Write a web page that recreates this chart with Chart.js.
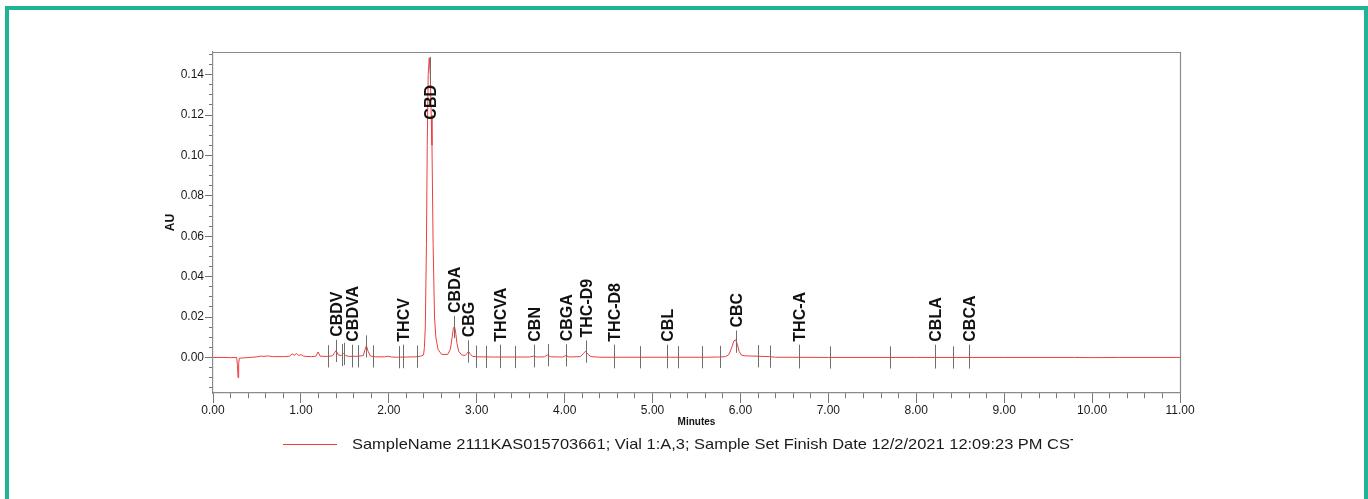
<!DOCTYPE html>
<html>
<head>
<meta charset="utf-8">
<script src="https://cdn.jsdelivr.net/npm/chart.js@4.4.1/dist/chart.umd.min.js"></script>
<style>
  html, body { margin: 0; padding: 0; background: #ffffff; overflow: hidden; }
  #wrap { position: relative; width: 1368px; height: 499px; }
  #frame { position: absolute; left: 5px; top: 6px; width: 1363px; height: 520px;
           border: 4px solid #1eb495; box-sizing: border-box; pointer-events: none; }
  canvas { position: absolute; left: 0; top: 0; }
</style>
</head>
<body>
<div id="wrap">
  <canvas id="c" width="1368" height="499"></canvas>
  <div id="frame"></div>
</div>
<script>
// ---- Data ----
const retentionTime = [
  0.00, 0.10, 0.20, 0.27, 0.278, 0.285, 0.292, 0.30, 0.35, 0.42, 0.50, 0.55, 0.58, 0.62, 0.68,
  0.80, 0.87, 0.90, 0.925, 0.95, 0.975, 1.00, 1.03, 1.12, 1.17, 1.195, 1.22, 1.30, 1.36, 1.385,
  1.40, 1.425, 1.46, 1.485, 1.51, 1.55, 1.65, 1.71, 1.73, 1.745, 1.765, 1.79, 1.85, 1.95, 1.99,
  2.03, 2.10, 2.20, 2.30, 2.36, 2.395, 2.405, 2.415, 2.428, 2.437, 2.448, 2.460, 2.472, 2.482, 2.491,
  2.504, 2.52, 2.535, 2.56, 2.60, 2.67, 2.70, 2.72, 2.735, 2.747, 2.76, 2.775, 2.795, 2.83, 2.87, 2.89,
  2.907, 2.925, 2.95, 3.00, 3.20, 3.40, 3.60, 3.645, 3.69, 3.77, 3.806, 3.84, 3.98, 4.015, 4.05,
  4.18, 4.21, 4.238, 4.265, 4.30, 4.40, 4.80, 5.20, 5.60, 5.75, 5.83, 5.87, 5.90, 5.925, 5.945,
  5.965, 5.985, 6.01, 6.05, 6.20, 6.33, 6.40, 7.00, 8.00, 9.00, 9.80, 10.00, 10.30, 11.00
];
const absorbanceAU = [
  0.0000, 0.0000, -0.0001, 0.0000, -0.0040, -0.0100, -0.0030, -0.0004, -0.0002, 0.0000, 0.0003, 0.0007, 0.0005, 0.0008, 0.0004,
  0.0004, 0.0006, 0.0018, 0.0011, 0.0019, 0.0010, 0.0014, 0.0006, 0.0004, 0.0006, 0.0027, 0.0006, 0.0005, 0.0008, 0.0025,
  0.0034, 0.0012, 0.0010, 0.0020, 0.0009, 0.0005, 0.0006, 0.0009, 0.0040, 0.0058, 0.0030, 0.0007, 0.0003, 0.0003, 0.0006,
  0.0002, 0.0001, 0.0002, 0.0003, 0.0006, 0.0012, 0.0050, 0.0150, 0.0560, 0.1050, 0.1400, 0.1483, 0.1400, 0.1200, 0.1050,
  0.0560, 0.0200, 0.0100, 0.0040, 0.0015, 0.0015, 0.0040, 0.0100, 0.0145, 0.0153, 0.0125, 0.0070, 0.0030, 0.0012, 0.0010, 0.0020,
  0.0030, 0.0018, 0.0006, 0.0003, 0.0002, 0.0002, 0.0002, 0.0006, 0.0002, 0.0003, 0.0013, 0.0003, 0.0002, 0.0010, 0.0002,
  0.0004, 0.0018, 0.0031, 0.0016, 0.0004, 0.0001, 0.0001, 0.0001, 0.0001, 0.0002, 0.0004, 0.0015, 0.0048, 0.0082, 0.0087,
  0.0065, 0.0030, 0.0012, 0.0008, 0.0006, 0.0004, 0.0001, 0.0000, 0.0000, 0.0000, 0.0000, -0.0001, 0.0000, 0.0000
];
// integration / peak markers (minutes)
const markerTimes = [
  1.312, 1.397, 1.465, 1.491, 1.579, 1.647, 1.742, 1.818, 2.121, 2.159, 2.326, 2.470, 2.743, 2.906,
  2.990, 3.108, 3.270, 3.430, 3.646, 3.813, 4.015, 4.242, 4.565, 4.857, 5.164, 5.285, 5.563, 5.771,
  5.953, 6.196, 6.332, 6.667, 7.023, 7.706, 8.211, 8.416, 8.600
];
// named peaks
const peakNames = ['CBDV', 'CBDVA', 'THCV', 'CBD', 'CBDA', 'CBG', 'THCVA', 'CBN', 'CBGA', 'THC-D9',
                   'THC-D8', 'CBL', 'CBC', 'THC-A', 'CBLA', 'CBCA'];
const peakTimes = [1.397, 1.579, 2.159, 2.470, 2.743, 2.906, 3.270, 3.646, 4.015, 4.242,
                   4.565, 5.164, 5.953, 6.667, 8.211, 8.600];
// axes
const xMin = 0, xMax = 11, xMajorStep = 1, xMinorStep = 0.2;
const yMin = -0.0176, yMax = 0.1512, yMajorStep = 0.02, yMinorStep = 0.005;
const seriesLabel = 'SampleName 2111KAS015703661; Vial 1:A,3; Sample Set Finish Date 12/2/2021 12:09:23 PM CST';

// ---- helpers ----
const FONT = "'Liberation Sans', Arial, Helvetica, sans-serif";
Chart.defaults.font.family = FONT;
function isMultiple(v, step) { const r = v / step; return Math.abs(r - Math.round(r)) < 1e-6; }
function traceAt(t) {
  for (let i = 1; i < retentionTime.length; i++) {
    if (t <= retentionTime[i]) {
      const t0 = retentionTime[i - 1], t1 = retentionTime[i];
      const f = (t - t0) / (t1 - t0);
      return absorbanceAU[i - 1] + f * (absorbanceAU[i] - absorbanceAU[i - 1]);
    }
  }
  return absorbanceAU[absorbanceAU.length - 1];
}

const TRACE_COLOR = 'rgb(236, 62, 62)';

const framePlugin = {
  id: 'frame',
  afterDraw(chart) {
    const { ctx, chartArea: a } = chart;
    ctx.save();
    ctx.strokeStyle = '#8a8a8a';
    ctx.lineWidth = 1.2;
    ctx.beginPath();
    ctx.moveTo(a.left, a.top + 0.5);
    ctx.lineTo(a.right + 0.5, a.top + 0.5);
    ctx.lineTo(a.right + 0.5, a.bottom);
    ctx.stroke();
    ctx.restore();
  }
};

const peakPlugin = {
  id: 'peaks',
  afterDatasetsDraw(chart) {
    const { ctx, chartArea: a } = chart;
    const xs = chart.scales.x, ys = chart.scales.y;
    ctx.save();
    ctx.lineWidth = 1;
    ctx.strokeStyle = '#6e6e6e';
    // unlabelled markers
    markerTimes.forEach(t => {
      if (peakTimes.some(p => Math.abs(p - t) < 1e-6)) return;
      const v = traceAt(t);
      const x = Math.round(xs.getPixelForValue(t)) + 0.5;
      ctx.beginPath();
      ctx.moveTo(x, ys.getPixelForValue(v - 0.0055));
      ctx.lineTo(x, ys.getPixelForValue(v + 0.0055));
      ctx.stroke();
    });
    // labelled peaks
    ctx.font = 'bold 16px ' + FONT;
    ctx.fillStyle = '#111111';
    peakNames.forEach((name, i) => {
      const t = peakTimes[i];
      const v = traceAt(t);
      const x = Math.round(xs.getPixelForValue(t)) + 0.5;
      const w = ctx.measureText(name).width;
      let bottom = ys.getPixelForValue(Math.max(0.0078, v + 0.007));
      ctx.strokeStyle = '#6e6e6e';
      ctx.beginPath();
      if (bottom - w < a.top + 4) {
        const top = a.top + 33;
        bottom = top + w;
        ctx.moveTo(x, a.top + 5);
        ctx.lineTo(x, top - 2);
      } else {
        ctx.moveTo(x, bottom + 3);
        ctx.lineTo(x, ys.getPixelForValue(v - 0.0055));
      }
      ctx.stroke();
      ctx.save();
      ctx.translate(x, bottom);
      ctx.rotate(-Math.PI / 2);
      ctx.textAlign = 'left';
      ctx.textBaseline = 'middle';
      ctx.fillText(name, 0, 1);
      ctx.restore();
    });
    ctx.restore();
  }
};

const legendPlugin = {
  id: 'sampleLegend',
  afterDraw(chart) {
    const { ctx } = chart;
    const y = 444.5;
    ctx.save();
    ctx.strokeStyle = TRACE_COLOR;
    ctx.lineWidth = 1;
    ctx.beginPath();
    ctx.moveTo(283, y);
    ctx.lineTo(337, y);
    ctx.stroke();
    ctx.beginPath();
    ctx.rect(340, y - 15, 1073 - 340, 30);
    ctx.clip();
    ctx.font = '15px ' + FONT;
    ctx.fillStyle = '#1a1a1a';
    ctx.textBaseline = 'middle';
    const w = ctx.measureText(seriesLabel).width;
    const sx = 728 / w;
    ctx.translate(352, y);
    ctx.scale(sx, 1);
    ctx.fillText(seriesLabel, 0, 0);
    ctx.restore();
  }
};

new Chart(document.getElementById('c'), {
  type: 'line',
  data: {
    datasets: [{
      label: seriesLabel,
      data: retentionTime.map((t, i) => ({ x: t, y: absorbanceAU[i] })),
      borderColor: TRACE_COLOR,
      borderWidth: 1,
      pointRadius: 0,
      tension: 0,
      fill: false
    }]
  },
  options: {
    responsive: false,
    animation: false,
    events: [],
    layout: { padding: { left: 160, right: 188, top: 52, bottom: 71 } },
    plugins: { legend: { display: false }, tooltip: { enabled: false } },
    scales: {
      x: {
        type: 'linear', min: xMin, max: xMax, position: 'bottom',
        afterFit(s) { s.height = 35; },
        ticks: {
          stepSize: xMinorStep, autoSkip: false, maxRotation: 0, padding: 0,
          color: '#1a1a1a', font: { size: 12 },
          callback: v => isMultiple(v, xMajorStep) ? v.toFixed(2) : ''
        },
        grid: {
          drawOnChartArea: false, tickLength: 10, color: '#777777',
          tickBorderDash: c => (c.tick && isMultiple(c.tick.value, xMajorStep)) ? [] : [5, 100]
        },
        border: { display: true, color: '#8a8a8a', width: 1.2 },
        title: { display: true, text: 'Minutes', color: '#111111',
                 font: { size: 10, weight: 'bold' }, padding: { top: 0, bottom: 0 } }
      },
      y: {
        type: 'linear', min: yMin, max: yMax, position: 'left',
        afterFit(s) { s.width = 53; },
        ticks: {
          stepSize: yMinorStep, includeBounds: false, autoSkip: false, padding: 1,
          color: '#1a1a1a', font: { size: 12 },
          callback: v => isMultiple(v, yMajorStep) ? Math.abs(v).toFixed(2) : ''
        },
        grid: {
          drawOnChartArea: false, tickLength: 8, color: '#777777',
          tickBorderDash: c => (c.tick && isMultiple(c.tick.value, yMajorStep)) ? [] : [0, 4, 4, 100]
        },
        border: { display: true, color: '#8a8a8a', width: 1.2 },
        title: { display: true, text: 'AU', color: '#111111',
                 font: { size: 12, weight: 'bold' }, padding: { top: 3, bottom: 0 } }
      }
    }
  },
  plugins: [framePlugin, peakPlugin, legendPlugin]
});
</script>
</body>
</html>
